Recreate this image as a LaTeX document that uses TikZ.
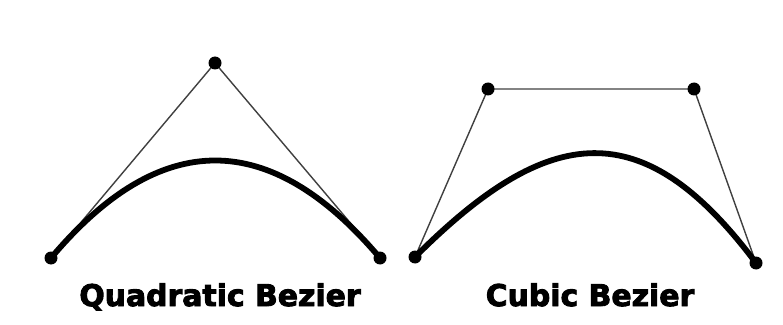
\documentclass[tikz,border=0pt]{standalone}
\usepackage{fontspec}
\setmainfont{DejaVu Sans}[BoldFeatures={FakeBold=3}]
\usepackage{tikz}
\usetikzlibrary{calc}

\begin{document}
\begin{tikzpicture}[x=0.02cm,y=-0.02cm]
    \useasboundingbox (0,0) rectangle (783,324);
    \def\rad{0.13cm}
    \tikzset{hull/.style={line width=0.8pt,black!75},
             curve/.style={line width=3.3pt,line cap=round},
             label/.style={anchor=base,font=\bfseries\fontsize{17}{20}\selectfont}}
    % quadratic
    \coordinate (Q0) at (51,258);
    \coordinate (Q1) at (215,63);
    \coordinate (Q2) at (380,258);
    \draw[hull] (Q0) -- (Q1) -- (Q2);
    \draw[curve] (Q0) .. controls ($(Q0)!2/3!(Q1)$) and ($(Q2)!2/3!(Q1)$) .. (Q2);
    \foreach \p in {Q0,Q1,Q2} \fill (\p) circle[radius=\rad];
    \node[label] (qlab) at (220,306) {Quadratic Bezier};
    % cubic
    \coordinate (C0) at (415,257);
    \coordinate (C1) at (488,89);
    \coordinate (C2) at (694,89);
    \coordinate (C3) at (756,263);
    \draw[hull] (C0) -- (C1) -- (C2) -- (C3);
    \draw[curve] (C0) .. controls (549,123) and (643,112) .. (C3);
    \foreach \p in {C0,C1,C2,C3} \fill (\p) circle[radius=\rad];
    \node[label] (clab) at (590,306) {Cubic Bezier};
\end{tikzpicture}
\end{document}
